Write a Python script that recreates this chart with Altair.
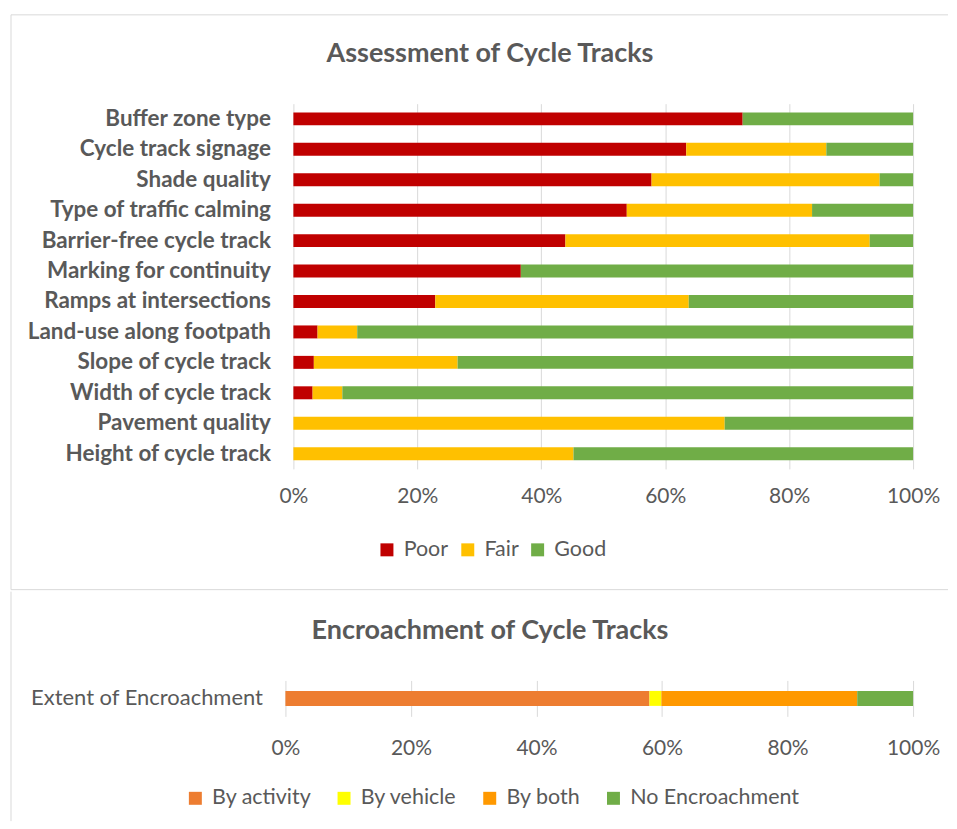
import altair as alt
import pandas as pd

# ---------------- data ----------------
categories = [
    "Buffer zone type", "Cycle track signage", "Shade quality",
    "Type of traffic calming ", "Barrier-free cycle track",
    "Marking for continuity", "Ramps at intersections",
    "Land-use along footpath", "Slope of cycle track",
    "Width of cycle track", "Pavement quality", "Height of cycle track",
]
poor = [72.5, 63.4, 57.8, 53.8, 43.9, 36.7, 22.9, 3.9, 3.3, 3.1, 0.0, 0.0]
fair = [0.0, 22.6, 36.8, 29.9, 49.1, 0.0, 40.9, 6.4, 23.2, 4.8, 69.6, 45.2]
good = [27.5, 14.0, 5.4, 16.3, 7.0, 63.3, 36.2, 89.7, 73.5, 92.1, 30.4, 54.8]
ratings = ["Poor", "Fair", "Good"]
rating_colors = ["#C00000", "#FFC000", "#70AD47"]

enc_category = ["Extent of Encroachment"]
enc_types = ["By activity", "By vehicle", "By both", "No Encroachment"]
enc_values = [58.0, 1.9, 31.2, 8.9]
enc_colors = ["#ED7D31", "#FFFF00", "#FF9900", "#70AD47"]

x_ticks = [0, 0.2, 0.4, 0.6, 0.8, 1.0]
title_top = "Assessment of Cycle Tracks"
title_bottom = "Encroachment of Cycle Tracks"

FONT = "Lato"
GREY = "#595959"
GRID = "#D9D9D9"

rows = []
for i, c in enumerate(categories):
    for j, (r, v) in enumerate(zip(ratings, [poor[i], fair[i], good[i]])):
        rows.append({"item": c, "rating": r, "order": j, "value": v})
df_top = pd.DataFrame(rows)

df_bot = pd.DataFrame({
    "item": enc_category * len(enc_types),
    "type": enc_types,
    "order": list(range(len(enc_types))),
    "value": enc_values,
})

one = pd.DataFrame({"k": [0]})


def x_axis(pad):
    return alt.Axis(values=x_ticks, format=".0%", title=None, domain=False,
                    ticks=False, grid=True, gridColor=GRID, gridWidth=1,
                    labelFont=FONT, labelFontSize=21, labelColor=GREY,
                    labelPadding=pad, labelFlush=False)


def legend(x, y, colpad):
    return alt.Legend(title=None, orient="none", legendX=x, legendY=y,
                      direction="horizontal", symbolType="square",
                      symbolSize=169, symbolStrokeWidth=0,
                      labelFont=FONT, labelFontSize=21.5, labelColor=GREY,
                      labelLimit=400, columnPadding=colpad, labelOffset=6)


# ---------------- top panel ----------------
TW, TH = 621, 366

top_bars = alt.Chart(df_top).mark_bar(size=13).encode(
    x=alt.X("value:Q", stack="normalize", scale=alt.Scale(domain=[0, 1]),
            axis=x_axis(17)),
    y=alt.Y("item:N", sort=categories, title=None,
            axis=alt.Axis(domain=False, ticks=False, labelFont=FONT,
                          labelFontSize=22.5, labelFontWeight="bold",
                          labelColor=GREY, labelPadding=23, labelLimit=400)),
    color=alt.Color("rating:N", scale=alt.Scale(domain=ratings, range=rating_colors),
                    legend=legend(83, 436, 8)),
    order=alt.Order("order:Q"),
)

top_title = alt.Chart(one).mark_text(
    text=title_top, font=FONT, fontSize=27, fontWeight="bold", color=GREY,
    align="center", baseline="middle",
).encode(x=alt.value(197), y=alt.value(-50))

rule_style = dict(color=GRID, strokeWidth=1)
top_border = alt.Chart(one).mark_rule(**rule_style).encode(
    x=alt.value(-283), x2=alt.value(656), y=alt.value(-89))
left_border_top = alt.Chart(one).mark_rule(**rule_style).encode(
    x=alt.value(-283), y=alt.value(-89), y2=alt.value(487))
separator = alt.Chart(one).mark_rule(**rule_style).encode(
    x=alt.value(-283), x2=alt.value(656), y=alt.value(487))

top = alt.layer(top_border, left_border_top, separator, top_bars, top_title).properties(
    width=TW, height=TH)

# ---------------- bottom panel ----------------
BH = 36
bot_bars = alt.Chart(df_bot).mark_bar(size=15).encode(
    x=alt.X("value:Q", stack="normalize",
            scale=alt.Scale(domain=[0, 1], range=[-8, TW]),
            axis=x_axis(21)),
    y=alt.Y("item:N", title=None,
            axis=alt.Axis(domain=False, ticks=False, labelFont=FONT,
                          labelFontSize=22, labelFontWeight="normal",
                          labelColor=GREY, labelPadding=31, labelLimit=400)),
    color=alt.Color("type:N", scale=alt.Scale(domain=enc_types, range=enc_colors),
                    legend=legend(-109, 107, 22)),
    order=alt.Order("order:Q"),
)

bot_title = alt.Chart(one).mark_text(
    text=title_bottom, font=FONT, fontSize=27, fontWeight="bold", color=GREY,
    align="center", baseline="middle",
).encode(x=alt.value(197), y=alt.value(-50))

left_border_bot = alt.Chart(one).mark_rule(**rule_style).encode(
    x=alt.value(-283), y=alt.value(-89), y2=alt.value(141))

bottom = alt.layer(left_border_bot, bot_bars, bot_title).properties(width=TW, height=BH)

chart = alt.vconcat(top, bottom, spacing=0).resolve_scale(color="independent").properties(
    padding={"left": 2, "top": 5, "right": 0, "bottom": 0},
    background="white",
).configure_view(stroke=None)

chart.save("out.html", embed_options={"renderer": "svg", "actions": False})
